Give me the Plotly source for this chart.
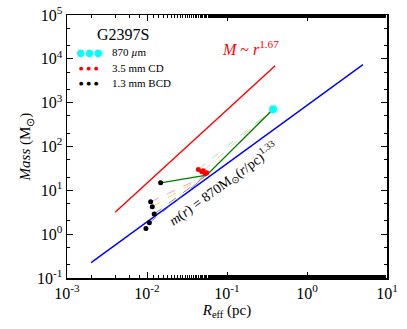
import numpy as np
import plotly.graph_objects as go

# Data
r_870 = [0.376]
m_870 = [710]

r_cd = [0.0438, 0.0483, 0.0505, 0.0531, 0.0557]
m_cd = [30.0, 26.4, 28.0, 24.3, 25.1]

r_bcd = [0.0148, 0.0111, 0.01164, 0.0123, 0.0107, 0.0097]
m_bcd = [14.8, 5.46, 4.2, 2.87, 1.81, 1.35]

# green hierarchy line
r_chain = [0.0148, 0.0557, 0.376]
m_chain = [14.8, 22.2, 710]

# faint dashed links (start index in BCD -> CD, CD -> 870)
link_bcd = [1, 2, 3, 4]
link_colors_bcd = ['violet', 'gold', 'slateblue', 'royalblue']
link_cd = [0, 2]
link_colors_cd = ['lightgreen', 'lightpink']

# reference relations
r_red = [0.004, 0.4]
r_blue = [0.002, 5.0]
red_coef, red_slope = 32000, 1.67
blue_coef, blue_slope = 870, 1.33

legend_labels = ['870 <i>µ</i>m', '3.5 mm CD', '1.3 mm BCD']
legend_colors = ['cyan', 'red', 'black']

serif = 'Liberation Serif, Times New Roman, serif'

fig = go.Figure()

r_red_a = np.array(r_red)
fig.add_trace(go.Scatter(x=r_red, y=red_coef * r_red_a ** red_slope, mode='lines',
                         line=dict(color='red', width=1.4), showlegend=False))
r_blue_a = np.array(r_blue)
fig.add_trace(go.Scatter(x=r_blue, y=blue_coef * r_blue_a ** blue_slope, mode='lines',
                         line=dict(color='blue', width=1.4), showlegend=False))

for i, c in zip(link_bcd, link_colors_bcd):
    fig.add_trace(go.Scatter(x=[r_bcd[i], r_chain[1]], y=[m_bcd[i], m_chain[1]], mode='lines',
                             line=dict(color=c, width=1, dash='dash'), opacity=0.8,
                             showlegend=False))
for i, c in zip(link_cd, link_colors_cd):
    fig.add_trace(go.Scatter(x=[r_cd[i], r_870[0]], y=[m_cd[i], m_870[0]], mode='lines',
                             line=dict(color=c, width=1, dash='dash'), opacity=0.9,
                             showlegend=False))

fig.add_trace(go.Scatter(x=r_chain, y=m_chain, mode='lines',
                         line=dict(color='green', width=1.4), showlegend=False))

fig.add_trace(go.Scatter(x=r_870, y=m_870, mode='markers', showlegend=False,
                         marker=dict(color='cyan', size=8)))
fig.add_trace(go.Scatter(x=r_cd, y=m_cd, mode='markers', showlegend=False,
                         marker=dict(color='red', size=5)))
fig.add_trace(go.Scatter(x=r_bcd, y=m_bcd, mode='markers', showlegend=False,
                         marker=dict(color='black', size=5)))

xt = [-3, -2, -1, 0, 1]
yt = [-1, 0, 1, 2, 3, 4, 5]

axis_common = dict(type='log', showline=True, linecolor='black', linewidth=1.5,
                   mirror='allticks', ticks='inside', ticklen=6, tickcolor='black',
                   showgrid=False, zeroline=False, automargin=False,
                   ticklabeloverflow='allow',
                   minor=dict(ticks='inside', ticklen=3, tickcolor='black', showgrid=False),
                   tickfont=dict(family=serif, size=16, color='black'))

fig.update_xaxes(range=[-3, 1], tickvals=[10.0 ** v for v in xt],
                 ticktext=['10<sup>%d</sup>' % v for v in xt],
                 title=dict(text='<i>R</i><sub>eff</sub> (pc)', font=dict(family=serif, size=15),
                            standoff=2),
                 **axis_common)
fig.update_yaxes(range=[-1, 5], tickvals=[10.0 ** v for v in yt],
                 ticktext=['10<sup>%d</sup>' % v for v in yt],
                 title=dict(text='<i>Mass</i> (M<sub>⊙</sub>)', font=dict(family=serif, size=15),
                            standoff=2),
                 **axis_common)

fig.add_annotation(x=-0.71, y=4.25, xref='x', yref='y', showarrow=False,
                   text='<i>M</i> ~ <i>r</i><sup>1.67</sup>',
                   font=dict(family=serif, size=16, color='red'))
fig.add_annotation(x=-1.05, y=1.15, xref='x', yref='y', showarrow=False, textangle=-36,
                   text='<i>m</i>(<i>r</i>) = 870M<sub>⊙</sub>(<i>r</i>/pc)<sup>1.33</sup>',
                   font=dict(family=serif, size=14, color='black'))

# legend drawn as text, three points per entry like the original
fig.add_annotation(x=0.175, y=0.925, xref='paper', yref='paper', showarrow=False,
                   xanchor='center', yanchor='middle',
                   text='G2397S', font=dict(family=serif, size=16, color='black'))
legend_y = [0.859, 0.798, 0.741]
for lab, col, ly in zip(legend_labels, legend_colors, legend_y):
    if col == 'cyan':
        dots, sz = '●●●', 10
    else:
        dots, sz = '●\u00a0\u00a0●\u00a0\u00a0●', 5
    fig.add_annotation(x=0.069, y=ly, xref='paper', yref='paper', showarrow=False,
                       xanchor='center', yanchor='middle',
                       text=dots, font=dict(family='DejaVu Sans', size=sz, color=col))
    fig.add_annotation(x=0.134, y=ly, xref='paper', yref='paper', showarrow=False,
                       xanchor='left', yanchor='middle', text=lab,
                       font=dict(family=serif, size=11, color='black'))

fig.update_layout(
    width=407, height=329,
    margin=dict(l=67, r=20, t=15, b=51),
    paper_bgcolor='white', plot_bgcolor='white',
    font=dict(family=serif, color='black'),
    showlegend=False, hovermode=False,
)

# drop the default 8 px page margin so the figure fills the window; static, no modebar
fig.write_html("out.html", config={'staticPlot': True},
               post_script="document.body.style.margin='0';")
